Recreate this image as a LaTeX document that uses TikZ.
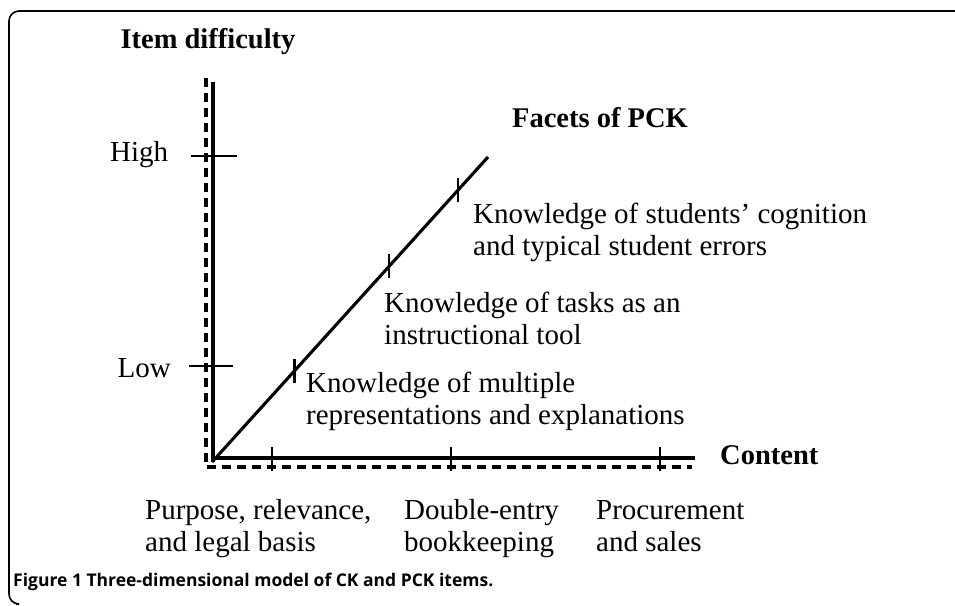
\documentclass[tikz,border=0pt]{standalone}
\usepackage{fontspec}
\setmainfont{Liberation Serif}
\newfontfamily\capfont{Open Sans}
\usetikzlibrary{calc}
\begin{document}
\begin{tikzpicture}[x=1pt,y=-1pt]
    \tikzset{axisline/.style={line width=3.1pt},
        dashaxis/.style={line width=3.2pt,dash pattern=on 9pt off 6pt},
        tickmark/.style={line width=2.8pt},
        lbl/.style={font=\fontsize{29}{32}\selectfont,align=left,inner sep=0pt},
        head/.style={font=\fontsize{28.5}{32}\selectfont\bfseries,inner sep=0pt}}
    \useasboundingbox (0,0) rectangle (955,605);
    \draw[line width=1.6pt,rounded corners=10pt] (955,11) -- (9,11) -- (9,604) -- (16,604);
    \coordinate (O) at (213,458);
    \coordinate (ytop) at (213,82);
    \coordinate (xend) at (695,458);
    \coordinate (d0) at (212,462);
    \coordinate (dtop) at (488,157);
    \draw[dashaxis] (206,78) -- (206,467) -- (692,467);
    \draw[axisline] (213,462) -- (ytop);
    \draw[axisline] (O) -- (xend);
    \draw[axisline] (d0) -- (dtop);
    \draw[tickmark] (191,156) -- (237,156);
    \draw[tickmark] (189,366) -- (233,366);
    \foreach \x in {272,451,660}
        \draw[tickmark] (\x,447) -- (\x,471);
    \foreach \p in {0.30,0.641,0.891}
        \draw[tickmark] ($(d0)!\p!(dtop)$) +(0,-12) -- +(0,12);
    \node[head,anchor=base] (ydiff) at (208,48) {Item difficulty};
    \node[lbl,anchor=base west] (high) at (110,161) {High};
    \node[lbl,anchor=base east] (low) at (171,377) {Low};
    \node[head,anchor=base east] (facets) at (688,127) {Facets of PCK};
    \node[head,anchor=base west] (content) at (720,464) {Content};
    \node[lbl,anchor=base west] (cognition) at (473,255) {Knowledge of students’ cognition\\and typical student errors};
    \node[lbl,anchor=base west] (tasks) at (384,344) {Knowledge of tasks as an\\instructional tool};
    \node[lbl,anchor=base west] (multiple) at (306,424) {Knowledge of multiple\\representations and explanations};
    \node[lbl,anchor=base west] (purpose) at (145,551) {Purpose, relevance,\\and legal basis};
    \node[lbl,anchor=base west] (double) at (404,551) {Double-entry\\bookkeeping};
    \node[lbl,anchor=base west] (procure) at (596,551) {Procurement\\and sales};
    \node[anchor=base west,inner sep=0pt,font=\capfont\bfseries\fontsize{17.5}{20}\selectfont] (caption) at (13,586) {Figure 1 Three-dimensional model of CK and PCK items.};
\end{tikzpicture}
\end{document}
